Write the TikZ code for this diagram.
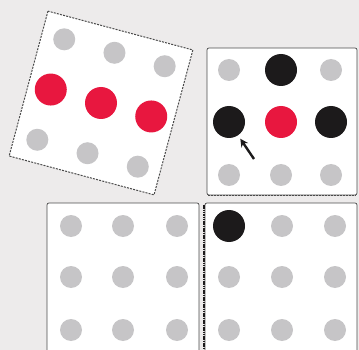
\documentclass[tikz,border=0pt]{standalone}
\usetikzlibrary{arrows.meta}
\definecolor{bg}{HTML}{EDEBEB}
\definecolor{dotgray}{HTML}{C6C5C7}
\definecolor{dotred}{HTML}{E8173F}
\definecolor{dotblack}{HTML}{1C1A1B}
\definecolor{edge}{HTML}{4A4A4A}
\tikzset{
  panel/.style={draw=edge, line width=0.7pt, fill=white, rounded corners=2pt},
  gdot/.style={circle, fill=dotgray, inner sep=0pt, minimum size=22pt},
  rdot/.style={circle, fill=dotred, inner sep=0pt, minimum size=32pt},
  kdot/.style={circle, fill=dotblack, inner sep=0pt, minimum size=32pt},
}
\begin{document}
\begin{tikzpicture}[x=1pt,y=-1pt]
\fill[bg] (0,0) rectangle (359,350);
\useasboundingbox (0,0) rectangle (359,350);
\begin{scope}
\clip (0,0) rectangle (359,350);
% rotated panel
\begin{scope}[rotate around={-15:(101,103)}]
  \draw[fill=white, draw=edge, line width=1pt, dash pattern=on 2pt off 1.2pt] (26,28) rectangle (176,178);
  \node[gdot] (r11) at (49,51) {};
  \node[gdot] (r12) at (101,51) {};
  \node[gdot] (r13) at (153,51) {};
  \node[rdot] (r21) at (49,103) {};
  \node[rdot] (r22) at (101,103) {};
  \node[rdot] (r23) at (153,103) {};
  \node[gdot] (r31) at (49,155) {};
  \node[gdot] (r32) at (101,155) {};
  \node[gdot] (r33) at (153,155) {};
\end{scope}
% top right panel
\draw[panel] (207,48) rectangle (357,195);
\draw[edge, line width=0.9pt, dash pattern=on 1.5pt off 1.5pt] (208,195) -- (356,195);
\node[gdot] (a11) at (229,70) {};
\node[kdot] (a12) at (281,70) {};
\node[gdot] (a13) at (331,70) {};
\node[kdot] (a21) at (229,122) {};
\node[rdot] (a22) at (281,122) {};
\node[kdot] (a23) at (331,122) {};
\node[gdot] (a31) at (229,175) {};
\node[gdot] (a32) at (281,175) {};
\node[gdot] (a33) at (331,175) {};
\coordinate (tail) at (254,159);
\draw[dotblack, line width=2.4pt, -{Stealth[length=8pt,width=8pt]}, shorten >=4pt] (tail) -- (a21);
% bottom left panel
\draw[panel] (47,203) rectangle (199,360);
\node[gdot] (b11) at (71,226) {};
\node[gdot] (b12) at (123,226) {};
\node[gdot] (b13) at (177,226) {};
\node[gdot] (b21) at (71,277) {};
\node[gdot] (b22) at (123,277) {};
\node[gdot] (b23) at (177,277) {};
\node[gdot] (b31) at (71,330) {};
\node[gdot] (b32) at (123,330) {};
\node[gdot] (b33) at (177,330) {};
% bottom right panel
\draw[panel] (205,203) rectangle (357,360);
\draw[dotblack, line width=2.2pt, dash pattern=on 1.6pt off 0.7pt] (204,205) -- (204,350);
\node[kdot] (c11) at (229,226) {};
\node[gdot] (c12) at (282,226) {};
\node[gdot] (c13) at (335,226) {};
\node[gdot] (c21) at (229,277) {};
\node[gdot] (c22) at (282,277) {};
\node[gdot] (c23) at (335,277) {};
\node[gdot] (c31) at (229,330) {};
\node[gdot] (c32) at (282,330) {};
\node[gdot] (c33) at (335,330) {};
\end{scope}
\end{tikzpicture}
\end{document}
